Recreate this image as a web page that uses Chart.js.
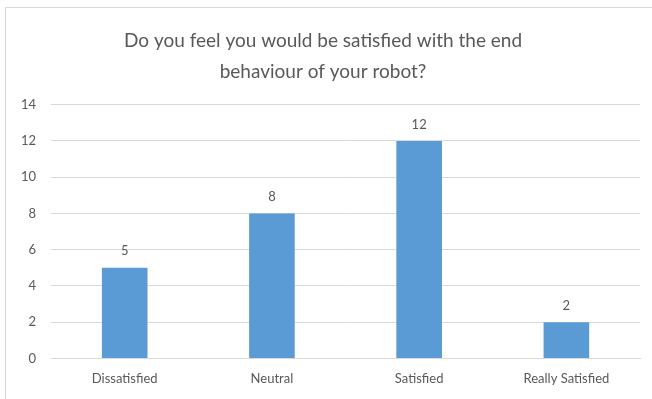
<!DOCTYPE html>
<html>
<head>
<meta charset="utf-8">
<script src="https://cdn.jsdelivr.net/npm/chart.js@4"></script>
<style>
  html, body { margin: 0; padding: 0; background: #fff; }
  #frame { position: absolute; left: 5px; top: 7px; width: 660px; height: 400px; border: 1px solid #d9d9d9; }
  #wrap { position: absolute; left: 0; top: 0; width: 652px; height: 399px; }
</style>
</head>
<body>
<div id="frame"></div>
<div id="wrap"><canvas id="surveyChart"></canvas></div>
<script>
var categories = ['Dissatisfied', 'Neutral', 'Satisfied', 'Really Satisfied'];
var responses = [5, 8, 12, 2];
var titleLines = ['Do you feel you would be satisfied with the end', 'behaviour of your robot?'];

var textColor = '#595959';
var gridColor = '#d9d9d9';
var fontFamily = 'Lato, "Open Sans", sans-serif';

// writes each bar's value just above its top
var valueLabels = {
    id: 'valueLabels',
    afterDatasetsDraw: function (chart) {
        var ctx = chart.ctx;
        ctx.save();
        ctx.fillStyle = textColor;
        ctx.font = '13px ' + fontFamily;
        ctx.textAlign = 'center';
        ctx.textBaseline = 'bottom';
        chart.getDatasetMeta(0).data.forEach(function (bar, i) {
            ctx.fillText(responses[i], bar.x, bar.y - 10);
        });
        ctx.restore();
    }
};

var ctx = document.getElementById('surveyChart').getContext('2d');
var surveyChart = new Chart(ctx, {
    type: 'bar',
    data: {
        labels: categories,
        datasets: [{
            data: responses,
            backgroundColor: '#5b9bd5',
            borderWidth: 0,
            barPercentage: 0.31,
            categoryPercentage: 1
        }]
    },
    options: {
        responsive: true,
        maintainAspectRatio: false,
        animation: false,
        layout: { padding: { left: 6, right: 12, top: 25, bottom: 7 } },
        plugins: {
            legend: { display: false },
            tooltip: { enabled: false },
            title: {
                display: true,
                text: titleLines,
                color: textColor,
                font: { family: fontFamily, size: 19, weight: 'normal', lineHeight: 1.65 },
                padding: { top: 0, bottom: 17 }
            }
        },
        scales: {
            x: {
                grid: { display: false },
                border: { color: gridColor },
                ticks: { color: textColor, font: { family: fontFamily, size: 13 }, padding: 5 }
            },
            y: {
                min: 0,
                max: 14,
                ticks: { stepSize: 2, color: textColor, font: { family: fontFamily, size: 13 }, padding: 15 },
                grid: { color: gridColor, drawTicks: false },
                border: { display: false }
            }
        }
    },
    plugins: [valueLabels]
});
</script>
</body>
</html>
